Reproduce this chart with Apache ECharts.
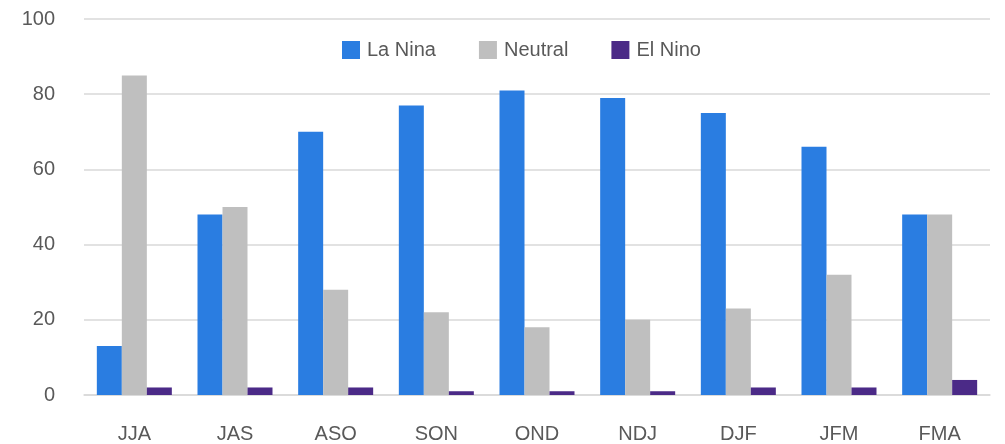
<!DOCTYPE html>
<html><head><meta charset="utf-8">
<script src="https://cdn.jsdelivr.net/npm/echarts@6/dist/echarts.min.js"></script>
<style>html,body{margin:0;padding:0;background:#fff}#c{width:1005px;height:444px}</style>
</head><body><div id="c"></div>
<script>
const categories = ['JJA','JAS','ASO','SON','OND','NDJ','DJF','JFM','FMA'];
const laNina = [13,48,70,77,81,79,75,66,48];
const neutral = [85,50,28,22,18,20,23,32,48];
const elNino = [2,2,2,1,1,1,2,2,4];
const yTicks = {min:0,max:100,interval:20};

const chart = echarts.init(document.getElementById('c'));
const font = '"Liberation Sans", Arial, sans-serif';
chart.setOption({
  animation:false,
  textStyle:{fontFamily:font},
  legend:{top:35,left:337,itemWidth:18,itemHeight:18,itemGap:43,
    icon:'rect',textStyle:{color:'#595959',fontSize:20,fontFamily:font,padding:[0,0,0,2]}},
  grid:{left:84,right:15,top:19,bottom:49},
  xAxis:{type:'category',data:categories,
    axisLine:{lineStyle:{color:'#D9D9D9',width:1.5}},axisTick:{show:false},
    axisLabel:{color:'#595959',fontSize:20,margin:29,fontFamily:font}},
  yAxis:{type:'value',min:yTicks.min,max:yTicks.max,interval:yTicks.interval,
    axisLine:{show:false},axisTick:{show:false},
    splitLine:{lineStyle:{color:'#D9D9D9',width:1.5}},
    axisLabel:{color:'#595959',fontSize:20,margin:29,fontFamily:font}},
  series:[
    {name:'La Nina',type:'bar',data:laNina,barWidth:25,barGap:'0%',itemStyle:{color:'#2A7DE1'}},
    {name:'Neutral',type:'bar',data:neutral,barWidth:25,barGap:'0%',itemStyle:{color:'#BFBFBF'}},
    {name:'El Nino',type:'bar',data:elNino,barWidth:25,barGap:'0%',itemStyle:{color:'#4B2A87'}}
  ]
});
</script></body></html>
